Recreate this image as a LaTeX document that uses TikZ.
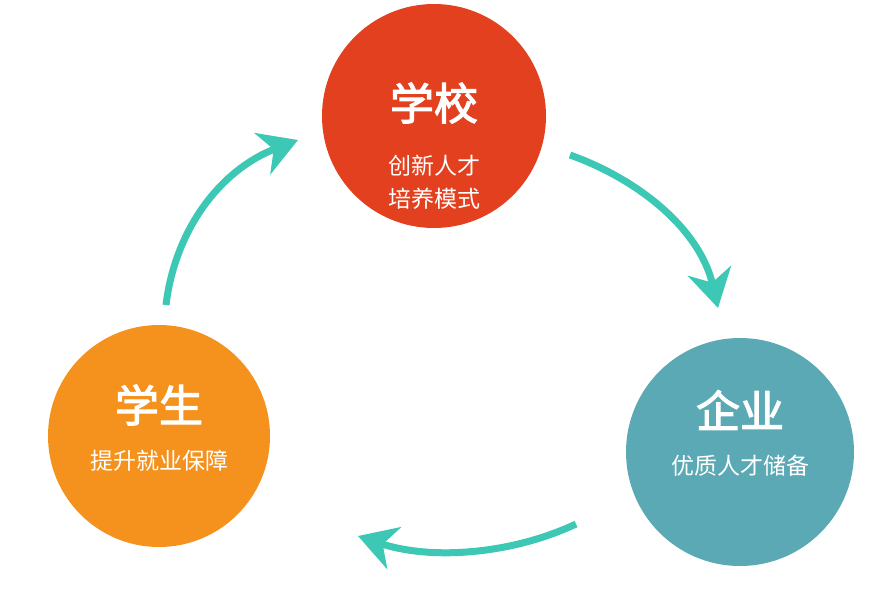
\documentclass[tikz,border=0pt]{standalone}
\usepackage{fontspec}
\newfontfamily\cjk{Noto Sans CJK SC}[AutoFakeBold=2.5]
\usetikzlibrary{arrows.meta}
\definecolor{cred}{HTML}{E2401E}
\definecolor{corange}{HTML}{F5921E}
\definecolor{cteal}{HTML}{5BA9B5}
\definecolor{carrow}{HTML}{3CC8B4}
\tikzset{
 ball/.style={circle,minimum size=#1,inner sep=0pt,text=white,align=center,font=\cjk},
 flow/.style={draw=carrow,line width=7pt,-{Stealth[length=38pt,width=44pt,inset=12pt]}},
 ttl/.style={font=\cjk\bfseries\fontsize{44}{48}\selectfont,text=white},
 sub/.style={font=\cjk\fontsize{23}{33}\selectfont,text=white,align=center},
}
\begin{document}
\begin{tikzpicture}[x=1pt,y=-1pt]
\useasboundingbox (0,0) rectangle (878,603);
\node[ball=224pt,fill=cred] (s) at (434,116) {};
\node[ball=222pt,fill=corange] (l) at (159,436) {};
\node[ball=228pt,fill=cteal] (r) at (740,452) {};
\node[ttl] (st) at (434,103) {学校};
\node[sub] (ss) at (434,182) {创新人才\\培养模式};
\node[ttl] (lt) at (159,405) {学生};
\node[sub] (ls) at (159,461) {提升就业保障};
\node[ttl] (rt) at (740,410) {企业};
\node[sub] (rs) at (740,466) {优质人才储备};
\coordinate (a1) at (570,155); \coordinate (b1) at (718,308);
\coordinate (a2) at (576,524); \coordinate (b2) at (358,536);
\coordinate (a3) at (166,305); \coordinate (b3) at (298,140);
\draw[flow] (a1) .. controls (640,180) and (700,230) .. (b1);
\draw[flow] (a2) .. controls (510,555) and (430,560) .. (b2);
\draw[flow] (a3) .. controls (175,230) and (220,170) .. (b3);
\end{tikzpicture}
\end{document}
